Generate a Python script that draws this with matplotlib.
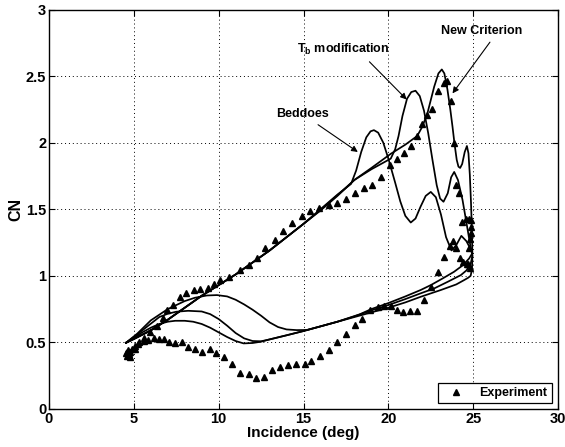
import matplotlib
matplotlib.use('Agg')
import matplotlib.pyplot as plt

plt.rcParams['font.family'] = ['Liberation Sans', 'DejaVu Sans']
plt.rcParams['mathtext.fontset'] = 'custom'
plt.rcParams['mathtext.rm'] = 'Liberation Sans'
plt.rcParams['mathtext.bf'] = 'Liberation Sans:bold'

# Beddoes model loop (alpha, CN)
bed_alpha = [4.54, 5.0, 6.0, 7.0, 8.0, 9.0, 10.0, 11.0, 12.0, 13.0, 14.0, 15.0, 16.0, 17.0, 17.5,
             17.8, 18.1, 18.4, 18.7, 18.95, 19.15, 19.4, 19.7, 20.0, 20.4, 20.7, 21.0, 21.32, 21.6,
             21.9, 22.2, 22.5, 22.8, 23.1, 23.4, 23.72, 24.0, 24.3, 24.6, 24.85, 24.95,
             24.76, 24.4, 23.87, 23.2, 22.5, 21.9, 21.0, 20.0, 19.0, 18.3, 17.0, 16.0, 15.2,
             14.6, 14.0, 13.5, 13.0, 12.5, 12.0, 11.5, 11.0, 10.5, 9.9, 9.3, 8.6, 8.0, 7.0, 6.0,
             5.2, 4.54]
bed_cn = [0.497, 0.525, 0.59, 0.67, 0.76, 0.85, 0.93, 1.01, 1.10, 1.19, 1.29, 1.39, 1.50, 1.61, 1.66,
          1.69, 1.79, 1.93, 2.04, 2.085, 2.094, 2.075, 2.00, 1.88, 1.70, 1.56, 1.45, 1.40, 1.43,
          1.52, 1.60, 1.63, 1.59, 1.46, 1.29, 1.19, 1.23, 1.30, 1.26, 1.20, 1.17,
          1.13, 1.08, 1.03, 0.98, 0.93, 0.893, 0.845, 0.795, 0.75, 0.71, 0.655, 0.62, 0.593,
          0.592, 0.597, 0.615, 0.65, 0.70, 0.745, 0.785, 0.82, 0.845, 0.855, 0.852, 0.835, 0.81, 0.75, 0.665,
          0.565, 0.497]

# Tb modification loop
tb_alpha = [4.54, 5.0, 6.0, 7.0, 8.0, 9.0, 10.0, 11.0, 12.0, 13.0, 14.0, 15.0, 16.0, 17.0, 18.0,
            19.0, 20.14, 20.4, 20.6, 20.83, 21.1, 21.35, 21.6, 21.85, 22.1, 22.35, 22.6, 22.85,
            23.05, 23.25, 23.5, 23.7, 23.88, 24.1, 24.37, 24.6, 24.8, 24.95,
            24.85, 24.6, 24.27, 23.5, 22.7, 21.9, 21.0, 20.0, 19.0, 18.0, 17.0, 16.0, 15.0, 14.0,
            13.0, 12.5, 12.0, 11.5, 11.0, 10.5, 10.0, 9.5, 9.0, 8.2, 7.5, 7.0, 6.5, 6.0, 5.5, 5.0, 4.54]
tb_cn = [0.497, 0.525, 0.59, 0.67, 0.76, 0.85, 0.93, 1.01, 1.10, 1.19, 1.29, 1.39, 1.49, 1.60, 1.72,
         1.80, 1.88, 1.95, 2.05, 2.20, 2.33, 2.38, 2.39, 2.35, 2.24, 2.07, 1.87, 1.68,
         1.58, 1.556, 1.62, 1.74, 1.78, 1.72, 1.57, 1.40, 1.25, 1.15,
         1.09, 1.04, 1.005, 0.955, 0.905, 0.868, 0.825, 0.78, 0.74, 0.695, 0.655, 0.62, 0.585, 0.553,
         0.522, 0.508, 0.51, 0.53, 0.57, 0.625, 0.675, 0.712, 0.732, 0.737, 0.73, 0.715, 0.69, 0.64, 0.59, 0.54, 0.497]

# New criterion loop
new_alpha = [4.54, 5.0, 6.0, 7.0, 8.0, 9.0, 10.0, 11.0, 12.0, 13.0, 14.0, 15.0, 16.0, 17.0, 18.0,
             19.0, 20.14, 21.0, 21.7, 22.0, 22.3, 22.5, 22.7, 22.95, 23.15, 23.3, 23.48, 23.65, 23.78,
             23.9, 24.03, 24.13, 24.23, 24.35, 24.5, 24.63, 24.72, 24.8, 24.87, 24.93, 24.95,
             24.93, 24.85, 24.7, 24.47, 24.0, 23.09, 21.9, 21.0, 20.0, 19.0, 18.0, 17.0, 16.0, 15.0,
             14.0, 13.0, 12.5, 12.0, 11.47, 11.0, 10.5, 10.0, 9.5, 9.0, 8.5, 8.0, 7.44, 7.0, 6.5, 6.0,
             5.5, 5.0, 4.54]
new_cn = [0.497, 0.525, 0.59, 0.67, 0.76, 0.85, 0.93, 1.01, 1.10, 1.19, 1.29, 1.39, 1.495, 1.605, 1.72,
          1.81, 1.916, 1.985, 2.05, 2.12, 2.22, 2.32, 2.42, 2.52, 2.55, 2.52, 2.40, 2.25, 2.12,
          1.99, 1.87, 1.82, 1.81, 1.84, 1.93, 1.975, 1.92, 1.76, 1.55, 1.32, 1.15,
          1.05, 1.0, 0.985, 0.968, 0.935, 0.893, 0.842, 0.80, 0.76, 0.725, 0.69, 0.655, 0.62, 0.585,
          0.553, 0.522, 0.505, 0.495, 0.492, 0.51, 0.54, 0.575, 0.61, 0.638, 0.655, 0.662, 0.662, 0.655, 0.638, 0.61,
          0.575, 0.535, 0.497]

# experiment
exp_alpha = [4.55, 4.62, 4.7, 4.65, 4.8, 4.9, 4.75, 4.58,
             5.05, 5.3, 5.6, 5.96, 6.35, 6.7, 6.94, 7.3, 7.73, 8.1, 8.52, 8.91, 9.35, 9.7, 10.09, 10.59,
             11.24, 11.77, 12.27, 12.75, 13.3, 13.8, 14.35, 14.9, 15.4, 15.9, 16.5, 17.0, 17.5, 18.05,
             18.57, 19.05, 19.55, 20.1, 20.49, 20.9, 21.32, 21.7, 22.0, 22.3, 22.6, 22.93, 23.25, 23.48,
             23.72, 23.84, 23.98, 24.17, 24.33, 24.57, 24.76, 24.86,
             24.86, 24.86, 24.82, 24.76, 24.7, 24.8, 24.66, 24.42, 24.25, 23.98, 23.82, 23.64,
             23.29, 22.93, 22.5, 22.1, 21.67, 21.28, 20.89, 20.53, 20.15, 19.74, 19.38, 18.89, 18.47,
             18.04, 17.5, 17.0, 16.49, 15.96, 15.43, 15.06, 14.56, 14.09, 13.64, 13.15, 12.65, 12.22,
             11.77, 11.24, 10.79, 10.33, 9.86, 9.46, 9.01, 8.62, 8.22, 7.83, 7.44, 7.1, 6.79, 6.51,
             6.2, 5.86, 5.57, 5.27, 5.05]
exp_cn = [0.42, 0.40, 0.41, 0.44, 0.43, 0.45, 0.39, 0.43,
          0.47, 0.50, 0.535, 0.58, 0.62, 0.68, 0.745, 0.78, 0.842, 0.868, 0.895, 0.90, 0.91, 0.935, 0.965, 0.988,
          1.04, 1.08, 1.13, 1.21, 1.27, 1.34, 1.40, 1.45, 1.49, 1.51, 1.53, 1.55, 1.575, 1.625,
          1.66, 1.68, 1.743, 1.83, 1.878, 1.919, 1.974, 2.05, 2.14, 2.206, 2.256, 2.39, 2.45, 2.464,
          2.314, 1.994, 1.68, 1.62, 1.405, 1.43, 1.43, 1.42,
          1.37, 1.32, 1.28, 1.205, 1.085, 1.06, 1.09, 1.10, 1.135, 1.206, 1.26, 1.223,
          1.143, 1.03, 0.913, 0.815, 0.737, 0.737, 0.725, 0.742, 0.77, 0.775, 0.765, 0.745, 0.679,
          0.629, 0.56, 0.50, 0.44, 0.40, 0.36, 0.335, 0.335, 0.33, 0.317, 0.29, 0.237, 0.234,
          0.26, 0.272, 0.337, 0.387, 0.422, 0.447, 0.43, 0.447, 0.462, 0.505, 0.492, 0.50, 0.522, 0.525,
          0.53, 0.52, 0.51, 0.49, 0.45]

x_ticks = [0, 5, 10, 15, 20, 25, 30]
y_ticks = [0, 0.5, 1, 1.5, 2, 2.5, 3]
y_ticklabels = ['0', '0.5', '1', '1.5', '2', '2.5', '3']


fig = plt.figure(figsize=(5.65, 4.47), dpi=100)
ax = fig.add_axes([0.0867, 0.0852, 0.901, 0.8935])

for a, c in [(bed_alpha, bed_cn), (tb_alpha, tb_cn), (new_alpha, new_cn)]:
    ax.plot(a, c, color='k', linewidth=1.25)
ax.plot(exp_alpha, exp_cn, linestyle='none', marker='^', color='k',
        markersize=3.8, label='Experiment')

ax.set_xlim(0, 30)
ax.set_ylim(0, 3)
ax.set_xticks(x_ticks)
ax.set_yticks(y_ticks)
ax.set_yticklabels(y_ticklabels)
ax.grid(True, color='k', linestyle=(0, (1, 3)), linewidth=0.7)
ax.tick_params(direction='in', length=4, top=True, right=True, labelsize=10.5, pad=2)
for lab in ax.get_xticklabels() + ax.get_yticklabels():
    lab.set_fontweight('bold')
for sp in ax.spines.values():
    sp.set_linewidth(1.0)

ax.set_xlabel('Incidence (deg)', fontsize=11, fontweight='bold', labelpad=0)
ax.set_ylabel('CN', fontsize=11.5, fontweight='bold', labelpad=2)

arrow = dict(arrowstyle='-|>', color='k', lw=0.8, mutation_scale=9, shrinkA=2, shrinkB=0)
ax.annotate('Beddoes', xy=(18.2, 1.93), xytext=(13.4, 2.19), ha='left', va='baseline',
            fontsize=9, fontweight='bold', arrowprops=dict(arrow, relpos=(0.67, 0)))
ax.annotate(r'$\mathbf{T_b}$ modification', xy=(21.08, 2.324), xytext=(14.63, 2.674),
            ha='left', va='baseline', fontsize=9, fontweight='bold',
            arrowprops=dict(arrow, relpos=(0.73, 0)))
ax.annotate('New Criterion', xy=(23.78, 2.37), xytext=(23.09, 2.815), ha='left', va='baseline',
            fontsize=9, fontweight='bold', arrowprops=dict(arrow, relpos=(0.65, 0)))

leg = ax.legend(loc='lower right', bbox_to_anchor=(0.988, 0.014), borderaxespad=0,
                fancybox=False, edgecolor='k', framealpha=1, fontsize=9,
                handlelength=2.2, handletextpad=0.8, borderpad=0.35)
leg.get_frame().set_linewidth(0.9)
for t in leg.get_texts():
    t.set_fontweight('bold')

fig.savefig('out.png', dpi=100)
